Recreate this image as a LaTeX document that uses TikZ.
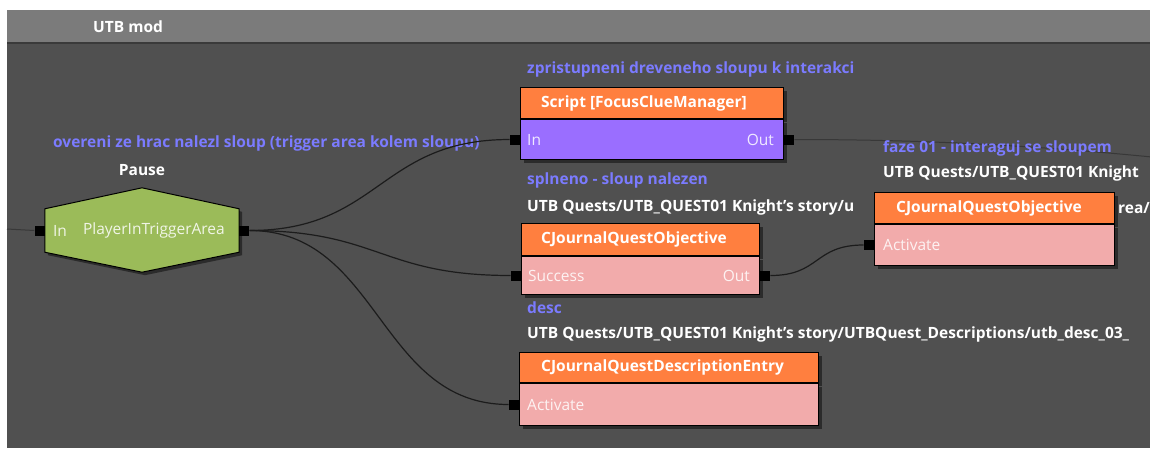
\documentclass[tikz,border=0pt]{standalone}
\usepackage{fontspec}
\setmainfont{Open Sans}
\usetikzlibrary{positioning,calc,shadows}
\definecolor{canvas}{HTML}{505050}
\definecolor{barfill}{HTML}{7B7B7B}
\definecolor{bardark}{HTML}{3A3A3A}
\definecolor{headfill}{HTML}{FF7F3F}
\definecolor{scriptfill}{HTML}{9A6EFF}
\definecolor{objfill}{HTML}{F2ABAB}
\definecolor{hexfill}{HTML}{9BBB59}
\definecolor{notecol}{HTML}{7B7BFF}
\definecolor{wireink}{HTML}{1C1C1C}
\definecolor{feedink}{HTML}{383838}
\tikzset{
  boxshadow/.style={drop shadow={shadow xshift=3pt,shadow yshift=-3pt,fill=black,opacity=.45}},
  headbox/.style={draw=black,line width=1pt,fill=headfill,anchor=north west,minimum height=31pt,inner sep=0pt,boxshadow},
  bodybox/.style={draw=black,line width=1pt,anchor=north west,inner sep=0pt,boxshadow},
  trigbox/.style={minimum width=194pt,minimum height=43pt,inner sep=0pt},
  port/.style={fill=black,minimum size=10pt,inner sep=0pt},
  title/.style={font=\bfseries\fontsize{15.5}{18}\selectfont,text=white,inner sep=0pt,anchor=west},
  portlbl/.style={font=\fontsize{15.5}{18}\selectfont,text=white,text opacity=.85,inner sep=0pt},
  note/.style={font=\bfseries\fontsize{15.5}{18}\selectfont,text=notecol,inner sep=0pt,anchor=west},
  pathtxt/.style={font=\bfseries\fontsize{15.5}{18}\selectfont,text=white,inner sep=0pt,anchor=west},
  wire/.style={draw=wireink,line width=1.2pt},
  feed/.style={draw=feedink,line width=1pt}}

\begin{document}
\begin{tikzpicture}[x=1pt,y=1pt]
  \useasboundingbox (0,0) rectangle (1150,-448);
  \clip (0,0) rectangle (1150,-448);
  % frame
  \fill[white] (0,0) rectangle (1150,-448);
  \fill[canvas] (7,-43) rectangle (1150,-448);
  \fill[barfill] (7,-10) rectangle (1150,-43);
  \draw[bardark,line width=1.5pt] (7,-43) -- (1150,-43);
  \node[title] (modname) at (93,-27) {UTB mod};

  % script
  \node[headbox,minimum width=263pt] (scripthead) at (520,-87) {};
  \node[bodybox,fill=scriptfill,minimum width=263pt,minimum height=40pt] (scriptbody) at (scripthead.south west) {};
  \node[title,right=21pt of scripthead.west] (scripttitle) {Script [FocusClueManager]};
  \node[port,anchor=east] (scriptin) at (scriptbody.west) {};
  \node[port,anchor=west] (scriptout) at (scriptbody.east) {};
  \node[portlbl,anchor=west,right=7pt of scriptbody.west] (scriptinlbl) {In};
  \node[portlbl,anchor=east,left=10pt of scriptbody.east] (scriptoutlbl) {Out};
  % goes on to the right, behind the notes
  \coordinate (offright) at (1500,-185);
  \draw[feed] (scriptout.east) .. controls +(350,0) and +(-200,0) .. (offright);

  % notes
  \node[note] (trignote) at (53,-143) {overeni ze hrac nalezl sloup (trigger area kolem sloupu)};
  \node[title,anchor=center] (pausenote) at (142,-170) {Pause};
  \node[note] (scriptnote) at (527,-69) {zpristupneni dreveneho sloupu k interakci};
  \node[note] (donenote) at (527,-180) {splneno - sloup nalezen};
  \node[pathtxt] (donepath) at (527,-207) {UTB Quests/UTB\_QUEST01 Knight's story/u};
  \node[pathtxt] (donetail) at (1118,-208) {rea/};
  \node[note] (fazenote) at (883,-148) {faze 01 - interaguj se sloupem};
  \node[pathtxt] (fazepath) at (883,-173) {UTB Quests/UTB\_QUEST01 Knight};
  \node[note] (descnote) at (527,-308) {desc};
  \node[pathtxt] (descpath) at (527,-334) {UTB Quests/UTB\_QUEST01 Knight's story/UTBQuest\_Descriptions/utb\_desc\_03\_};

  % trigger area check
  \node[trigbox] (trig) at (142,-230.5) {};
  \path[draw=black,line width=1pt,fill=hexfill,boxshadow]
    (trig.north west) -- ($(trig.north)+(0,21)$) -- (trig.north east)
    -- (trig.south east) -- ($(trig.south)+(0,-20)$) -- (trig.south west) -- cycle;
  \node[port,anchor=east] (trigin) at (trig.west) {};
  \node[port,anchor=west] (trigout) at (trig.east) {};
  \node[portlbl,anchor=west,right=8pt of trig.west] (triginlbl) {In};
  \node[portlbl,anchor=west,right=38pt of trig.west] (trigname) {PlayerInTriggerArea};

  % objective done
  \node[headbox,minimum width=238pt,minimum height=32pt] (donehead) at (521,-223) {};
  \node[bodybox,fill=objfill,minimum width=238pt,minimum height=38pt] (donebody) at (donehead.south west) {};
  \node[title,right=20pt of donehead.west] (donetitle) {CJournalQuestObjective};
  \node[port,anchor=east] (donein) at (donebody.west) {};
  \node[port,anchor=west] (doneout) at (donebody.east) {};
  \node[portlbl,anchor=west,right=7pt of donebody.west] (doneinlbl) {Success};
  \node[portlbl,anchor=east,left=10pt of donebody.east] (doneoutlbl) {Out};

  % faze 01
  \node[headbox,minimum width=240pt] (fazehead) at (874,-192) {};
  \node[bodybox,fill=objfill,minimum width=240pt,minimum height=41pt] (fazebody) at (fazehead.south west) {};
  \node[title,right=22pt of fazehead.west] (fazetitle) {CJournalQuestObjective};
  \node[port,anchor=east] (fazein) at (fazebody.west) {};
  \node[portlbl,anchor=west,right=9pt of fazebody.west] (fazeinlbl) {Activate};

  % description
  \node[headbox,minimum width=299pt,minimum height=30pt] (deschead) at (519,-352) {};
  \node[bodybox,fill=objfill,minimum width=299pt,minimum height=42pt] (descbody) at (deschead.south west) {};
  \node[title,right=22pt of deschead.west] (desctitle) {CJournalQuestDescriptionEntry};
  \node[port,anchor=east] (descin) at (descbody.west) {};
  \node[portlbl,anchor=west,right=8pt of descbody.west] (descinlbl) {Activate};

  % wires
  \coordinate (leftedge) at (7,-229);
  \draw[feed] (leftedge) -- (trigin.west);
  \draw[wire] (trigout.east) .. controls +(130,0) and +(-130,0) .. (scriptin.west);
  \draw[wire] (trigout.east) .. controls +(130,0) and +(-130,0) .. (donein.west);
  \draw[wire] (trigout.east) .. controls +(130,0) and +(-130,0) .. (descin.west);
  \draw[wire] (doneout.east) .. controls +(50,0) and +(-50,0) .. (fazein.west);
\end{tikzpicture}
\end{document}
